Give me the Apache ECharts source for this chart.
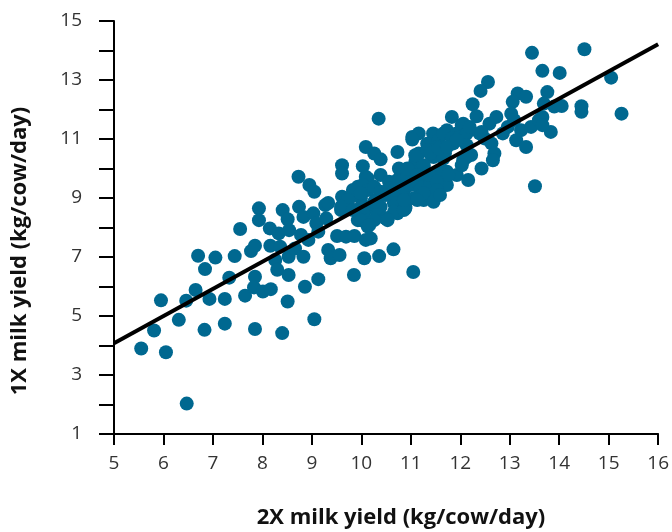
<!DOCTYPE html>
<html>
<head>
<meta charset="utf-8">
<script src="https://cdn.jsdelivr.net/npm/echarts@6/dist/echarts.min.js"></script>
<style>
  html, body { margin: 0; padding: 0; background: #fff; }
  #chart { width: 672px; height: 532px; }
</style>
</head>
<body>
<div id="chart"></div>
<script>
// 1X vs 2X milk yield, one point per cow (kg/cow/day)
var cowPoints = [
  // lower left
  [5.55,3.90],[5.81,4.51],[6.05,3.77],[5.95,5.53],[6.31,4.87],[6.46,5.52],[6.65,5.88],[6.47,2.03],
  [6.70,7.04],[6.84,6.59],[6.93,5.58],[6.83,4.53],[7.05,6.98],[7.24,5.58],[7.24,4.74],[7.33,6.30],
  [7.44,7.03],[7.55,7.95],[7.65,5.69],[7.85,4.56],[7.77,7.20],[7.85,7.38],[7.85,6.33],[7.83,5.97],
  [8.01,5.83],[8.17,5.91],[8.16,7.38],[8.26,6.90],[8.30,6.57],[8.40,4.42],
  [7.93,8.65],[7.93,8.25],[8.15,7.97],[8.33,7.80],[8.53,6.39],[8.51,5.49],[9.05,4.89],[8.86,5.99],
  [9.13,6.25],[8.41,8.59],[8.51,8.28],[8.54,7.91],[8.36,7.35],[8.53,7.01],[8.73,9.72],[8.95,9.44],
  [9.05,9.21],[8.74,8.70],[8.83,8.36],[8.78,7.75],[8.66,7.29],[8.83,7.01],[9.03,8.48],[9.09,8.14],
  [8.93,7.58],[9.13,7.86],[9.27,8.76],[9.29,8.31],[9.33,7.24],[9.38,6.96],[9.56,7.07],[9.51,7.71],
  [9.69,7.69],[9.86,7.71],[9.85,6.39],[9.61,10.11],[9.61,9.83],[9.61,9.04],[9.59,8.59],[9.79,9.04],
  [9.93,9.38],[9.99,8.99],[10.08,9.49],[10.09,9.72],[9.93,8.25],[10.09,8.25],[10.09,7.58],[10.06,6.96],
  // centre
  [10.35,11.69],[10.09,10.73],[10.26,10.51],[10.39,10.31],[10.73,10.56],[10.03,10.08],[11.03,11.07],
  [11.16,11.19],[11.45,11.19],[11.83,11.75],[12.03,11.47],[11.73,11.30],[11.93,11.19],[11.33,10.84],
  [11.56,10.96],[11.16,10.51],[11.09,10.22],[11.46,10.39],[11.69,10.51],[11.86,10.85],[10.76,10.00],
  [10.39,9.78],[10.13,9.66],[10.03,9.44],[10.56,9.55],[10.73,9.61],[10.95,9.78],[11.33,9.61],
  [11.73,9.44],[11.69,9.89],[11.93,9.78],[11.49,9.04],[11.26,8.93],[10.89,8.65],[10.53,8.31],
  [10.29,8.93],[10.09,8.59],[10.19,7.63],[10.65,7.26],[10.36,7.03],[11.05,6.49],
  [10.13,9.27],[10.26,9.38],[10.39,9.21],[10.56,9.32],[10.73,9.10],[10.86,9.27],[10.99,9.44],
  [11.13,9.55],[11.19,9.27],[11.39,9.10],[9.83,9.27],[9.73,8.93],[10.19,8.70],[10.39,8.70],
  [10.66,8.82],[9.89,8.59],[10.33,8.42],[10.73,8.48],[10.13,8.03],
  [9.99,9.16],[9.59,8.70],[9.83,8.59],[10.06,8.70],[10.26,8.87],[10.49,9.10],[10.66,9.27],
  [10.76,9.55],[10.93,9.72],[11.13,9.89],[11.26,10.06],[11.09,10.45],[11.33,10.62],[11.53,10.73],
  [11.66,10.34],[11.73,9.89],[11.53,9.72],[11.39,9.44],[11.26,9.16],[11.46,8.87],[11.06,8.99],
  [10.89,8.70],[10.66,8.53],[10.49,8.31],[10.26,8.25],[9.99,8.25],[10.16,8.08],[10.86,8.59],
  [10.53,8.25],[9.33,8.83],
  [12.25,12.18],[12.33,11.77],[12.06,11.52],[12.59,11.52],[11.03,10.98],[11.66,11.19],[11.83,11.02],
  [11.99,11.07],[12.13,11.19],[12.39,11.19],[12.49,11.02],[11.39,10.51],[11.56,10.68],[11.73,10.73],
  [12.13,10.79],[12.22,10.46],[12.06,10.28],[12.43,10.00],[10.93,10.00],[11.26,10.11],[11.59,9.89],
  [11.76,9.78],[11.39,9.78],[11.53,9.55],[11.53,9.27],[11.59,9.10],[11.13,9.78],[10.86,8.93],
  [11.13,8.93],
  // upper right
  [13.45,13.92],[13.66,13.31],[14.01,13.24],[12.56,12.93],[12.41,12.63],[13.16,12.54],[13.33,12.43],
  [13.06,12.26],[13.03,11.86],[13.76,12.59],[13.69,12.20],[13.90,12.10],[14.05,12.12],[13.66,11.75],
  [13.83,11.24],[12.73,11.75],[12.43,11.24],[12.19,11.41],[11.93,10.96],[12.63,10.85],[12.69,10.51],
  [12.66,10.28],[12.13,10.39],[12.03,10.11],[12.16,9.61],[13.13,10.96],[13.33,10.73],[12.86,11.19],
  [13.23,11.30],[13.43,11.41],[13.59,11.64],[12.96,11.41],[13.09,11.64],[13.51,9.40],[13.66,11.47],
  [14.51,14.04],[15.05,13.08],[14.45,12.11],[14.45,11.92],[15.26,11.86]
];

// regression line end points
var fitLine = [[5, 4.08], [16, 14.21]];

var xRange = [5, 16];
var yRange = [1, 15];

var chart = echarts.init(document.getElementById('chart'));

var tickFont = {
  fontFamily: 'Open Sans',
  fontSize: 19,
  color: '#333'
};

chart.setOption({
  animation: false,
  grid: { left: 114, right: 9, top: 21, bottom: 98 },
  xAxis: {
    type: 'value',
    min: xRange[0],
    max: xRange[1],
    interval: 1,
    axisLine: { show: true, lineStyle: { color: '#000', width: 2 } },
    axisTick: { show: true, length: 11, lineStyle: { color: '#000', width: 2 } },
    axisLabel: Object.assign({ margin: 20 }, tickFont),
    splitLine: { show: false }
  },
  yAxis: {
    type: 'value',
    min: yRange[0],
    max: yRange[1],
    interval: 1,
    axisLine: { show: true, lineStyle: { color: '#000', width: 2 } },
    axisTick: { show: true, length: 15, lineStyle: { color: '#000', width: 2 } },
    axisLabel: Object.assign({
      margin: 32,
      formatter: function (v) { return v % 2 === 1 ? v : ''; }
    }, tickFont),
    splitLine: { show: false }
  },
  graphic: [
    {
      type: 'text',
      x: 401,
      y: 518,
      style: {
        text: '2X milk yield (kg/cow/day)',
        fontFamily: 'Open Sans',
        fontWeight: 'bold',
        fontSize: 22,
        fill: '#111',
        align: 'center',
        verticalAlign: 'middle'
      }
    },
    {
      type: 'text',
      x: 9,
      y: 251,
      rotation: Math.PI / 2,
      style: {
        text: '1X milk yield (kg/cow/day)',
        fontFamily: 'Open Sans',
        fontWeight: 'bold',
        fontSize: 22,
        fill: '#111',
        align: 'center',
        verticalAlign: 'top'
      }
    }
  ],
  series: [
    {
      type: 'scatter',
      data: cowPoints,
      symbolSize: 14,
      itemStyle: { color: '#006890', opacity: 1 }
    },
    {
      type: 'line',
      data: fitLine,
      symbol: 'none',
      lineStyle: { color: '#000', width: 4 },
      z: 3
    }
  ]
});
</script>
</body>
</html>
